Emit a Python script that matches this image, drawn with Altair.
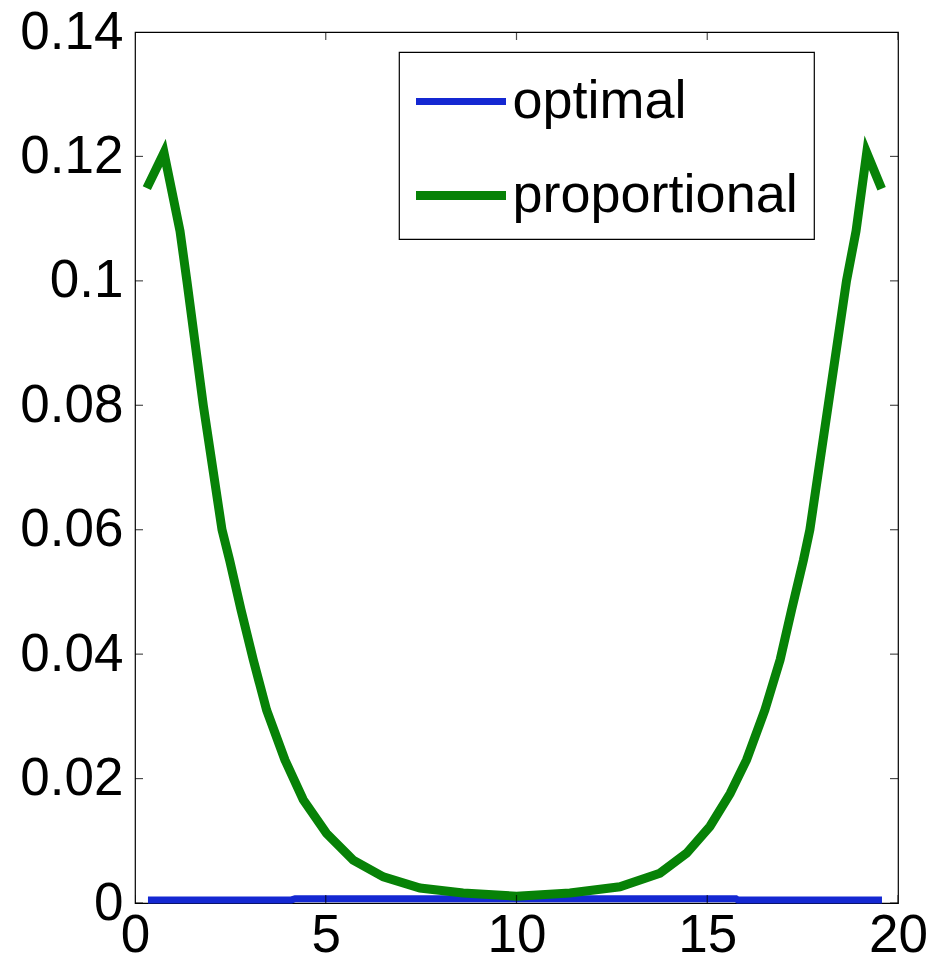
import altair as alt
import pandas as pd

# Series values
prop_x = [0.31, 0.76, 1.18, 1.36, 1.79, 2.28, 2.48, 2.78, 3.1, 3.45, 3.93, 4.41, 5.02, 5.72, 6.51, 7.47, 8.6,
          10.0, 11.4, 12.71, 13.76, 14.46, 15.07, 15.6, 16.03, 16.51, 16.91, 17.21, 17.52, 17.69, 18.17, 18.65, 18.9, 19.18, 19.57]
prop_y = [0.1149, 0.1206, 0.108, 0.100, 0.080, 0.060, 0.0551, 0.0471, 0.0391, 0.031, 0.023, 0.0166, 0.0112, 0.0069, 0.0042, 0.0024, 0.0016,
          0.0011, 0.0016, 0.0026, 0.0048, 0.0080, 0.0123, 0.0176, 0.023, 0.031, 0.0391, 0.0471, 0.0551, 0.060, 0.080, 0.100, 0.108, 0.1206, 0.1148]
opt_x = [0.34, 4.1, 4.2, 15.75, 15.8, 19.58]
opt_y = [0.0005, 0.0005, 0.0007, 0.0007, 0.0005, 0.0005]

series_names = ["optimal", "proportional"]
series_colors = ["#1428d2", "#078207"]

x_ticks = [0, 5, 10, 15, 20]
y_ticks = [0, 0.02, 0.04, 0.06, 0.08, 0.1, 0.12, 0.14]

rows = []
for i, (x, y) in enumerate(zip(opt_x, opt_y)):
    rows.append({"x": x, "y": y, "series": "optimal", "order": i})
for i, (x, y) in enumerate(zip(prop_x, prop_y)):
    rows.append({"x": x, "y": y, "series": "proportional", "order": i})
df = pd.DataFrame(rows)

xt = pd.DataFrame({"v": x_ticks})
yt = pd.DataFrame({"v": y_ticks})

FONT = "Liberation Sans"

xscale = alt.Scale(domain=[0, 20], nice=False, zero=False)
yscale = alt.Scale(domain=[0, 0.14], nice=False, zero=False)

lines = alt.Chart(df).mark_line(strokeCap="butt", strokeJoin="miter").encode(
    x=alt.X("x:Q", scale=xscale,
            axis=alt.Axis(values=x_ticks, title=None, grid=False, domain=False, ticks=False,
                          labelFontSize=53, labelFont=FONT, labelColor="black", labelPadding=6,
                          labelFlush=False, labelOverlap=False, format="~g")),
    y=alt.Y("y:Q", scale=yscale,
            axis=alt.Axis(values=y_ticks, title=None, grid=False, domain=False, ticks=False,
                          labelFontSize=53, labelFont=FONT, labelColor="black", labelPadding=12,
                          labelFlush=False, labelOverlap=False, format="~g")),
    color=alt.Color("series:N",
                    scale=alt.Scale(domain=series_names, range=series_colors),
                    legend=alt.Legend(title=None, orient="none", legendX=264, legendY=20,
                                      symbolType="M-1.5,0H1.5", symbolSize=3600, symbolStrokeWidth=7,
                                      symbolOffset=11.5,
                                      labelFontSize=54, labelFont=FONT, labelColor="black",
                                      labelLimit=600, labelOffset=17, padding=16, rowPadding=32,
                                      strokeColor="black",
                                      fillColor="white", cornerRadius=0)),
    strokeWidth=alt.StrokeWidth("series:N", scale=alt.Scale(domain=series_names, range=[7, 9]), legend=None),
    order="order:Q",
)

tick_style = dict(color="black", thickness=1.2, size=16, clip=True)
ytick_left = alt.Chart(yt).mark_tick(orient="horizontal", **tick_style).encode(
    x=alt.datum(0, scale=xscale), y=alt.Y("v:Q", scale=yscale))
ytick_right = alt.Chart(yt).mark_tick(orient="horizontal", **tick_style).encode(
    x=alt.datum(20, scale=xscale), y=alt.Y("v:Q", scale=yscale))
xtick_bottom = alt.Chart(xt).mark_tick(orient="vertical", **tick_style).encode(
    x=alt.X("v:Q", scale=xscale), y=alt.datum(0, scale=yscale))
xtick_top = alt.Chart(xt).mark_tick(orient="vertical", **tick_style).encode(
    x=alt.X("v:Q", scale=xscale), y=alt.datum(0.14, scale=yscale))

chart = alt.layer(lines, ytick_left, ytick_right, xtick_bottom, xtick_top).properties(
    width=763, height=871,
    autosize=alt.AutoSizeParams(type="none"),
    padding={"left": 127, "top": 24, "right": 30, "bottom": 58},
    background="white",
).configure_view(stroke="black", strokeWidth=1.2).configure_legend(strokeWidth=1.2)

chart.save("out.html", embed_options={"renderer": "svg", "actions": False})
